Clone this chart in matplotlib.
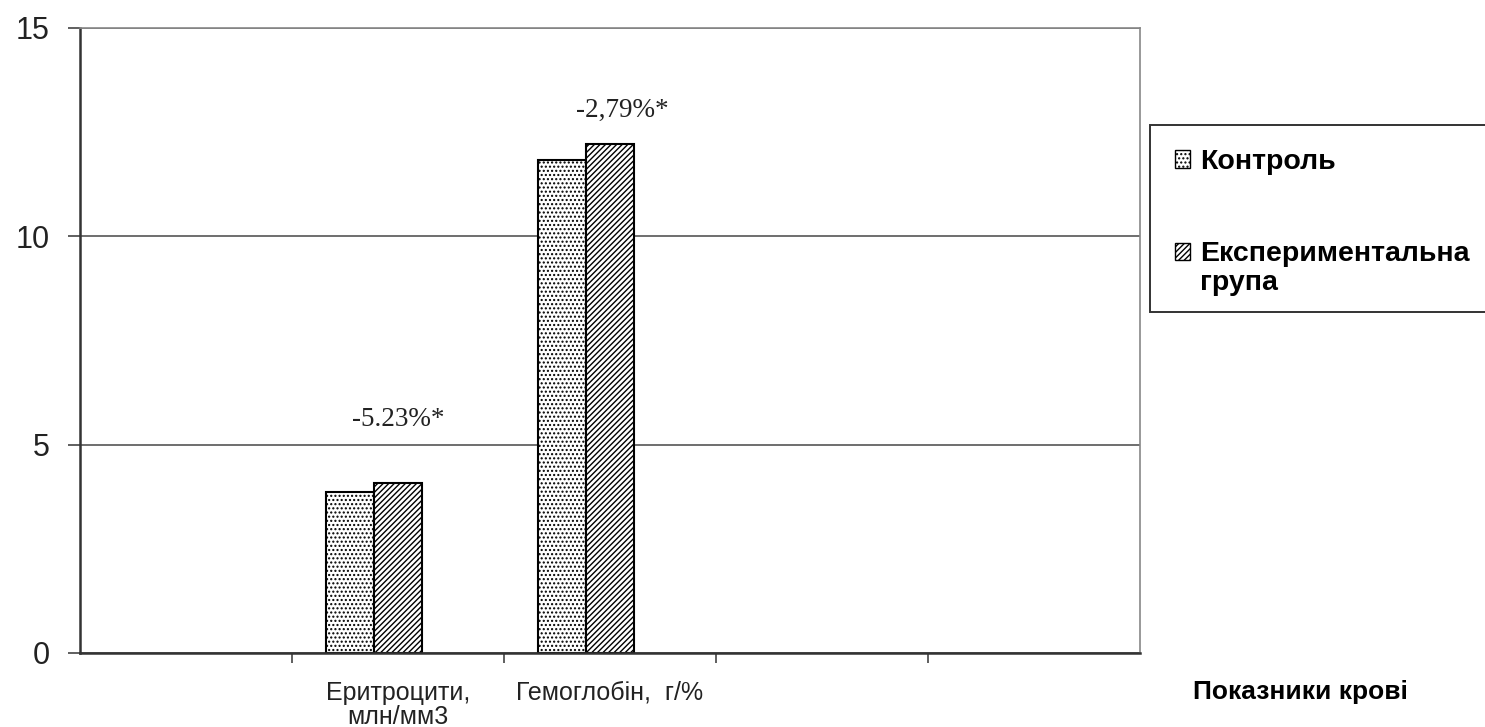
import matplotlib.pyplot as plt
from matplotlib.patches import Patch, Rectangle
import numpy as np

plt.rcParams['hatch.linewidth'] = 1.0

# Blood indicators (empty slots kept as in the original sheet)
categories = ["", "Еритроцити,\nмлн/мм3", "Гемоглобін,  г/%", "", ""]
control = [0, 3.86, 11.82, 0, 0]
experimental = [0, 4.07, 12.22, 0, 0]
notes = ["", "-5.23%*", "-2,79%*", "", ""]
series_names = ["Контроль", "Експериментальна\nгрупа"]

fig = plt.figure(figsize=(14.85, 7.27), dpi=100)
ax = fig.add_axes([0.0539, 0.1018, 0.7138, 0.8597])

x = np.arange(len(categories))
w = 0.226  # three slots per group, third series is empty
styles = [dict(hatch="...."), dict(hatch="//////")]
for k, vals in enumerate([control, experimental]):
    bars = ax.bar(x + (k - 1) * w, vals, w, color="white", edgecolor="black",
                  linewidth=1.5, **styles[k])
    for patch, v in zip(bars, vals):
        if v == 0:
            patch.set_visible(False)

# percentage change above each group
note_lift = [0, 1.54, 0.8, 0, 0]
note_shift = [0, 0, 0.06, 0, 0]
for i, t in enumerate(notes):
    if t:
        top = max(control[i], experimental[i])
        ax.text(x[i] + note_shift[i], top + note_lift[i], t,
                ha="center", va="center", fontsize=19.5, family="Liberation Serif",
                color="#222222")

ax.set_xlim(-0.5, len(categories) - 0.5)
ax.set_ylim(0, 15)
ax.set_yticks([0, 5, 10, 15])
ax.set_yticklabels(["0", "5", "10", "15"], fontsize=22, family="Liberation Sans",
                   color="#222222")
ax.yaxis.grid(True, color="#555555", linewidth=1.2)
ax.set_axisbelow(True)

ax.set_xticks(x)
ax.set_xticklabels(categories, fontsize=18, family="Liberation Sans", linespacing=1.0,
                   color="#222222")
ax.set_xticks(np.arange(0.5, len(categories) - 1, 1.0), minor=True)
ax.tick_params(axis="x", which="major", length=0, pad=20)
ax.tick_params(axis="x", which="minor", length=7, width=1.2, color="#444444")
ax.tick_params(axis="y", length=9, width=1.2, color="#444444", pad=13)

for side in ["left", "bottom"]:
    ax.spines[side].set_color("#333333")
    ax.spines[side].set_linewidth(1.8)
for side in ["top", "right"]:
    ax.spines[side].set_color("#888888")
    ax.spines[side].set_linewidth(1.2)

fig.text(0.876, 0.048, "Показники крові", ha="center", va="center",
         fontsize=19, fontweight="bold", family="Liberation Sans")

# legend box runs off the right edge
fig.patches.append(Rectangle((0.7745, 0.571), 0.3, 0.257, transform=fig.transFigure,
                             facecolor="white", edgecolor="#333333", linewidth=1.4))
handles = [Patch(facecolor="white", edgecolor="black", linewidth=1.0, **s) for s in styles]
leg = fig.legend(handles=handles, labels=series_names, loc="upper left",
                 bbox_to_anchor=(0.791, 0.795),
                 prop={"family": "Liberation Sans", "weight": "bold", "size": 20.5},
                 frameon=False, handlelength=0.55, handleheight=0.55, handletextpad=0.35,
                 labelspacing=2.3, borderpad=0, borderaxespad=0)
for txt in leg.get_texts():
    txt.set_linespacing(1.15)
# put the second marker next to the first line of its two-line label
h2 = leg.legend_handles[1]
h2.set_y(h2.get_y() + 12)

fig.savefig("out.png", dpi=100)
